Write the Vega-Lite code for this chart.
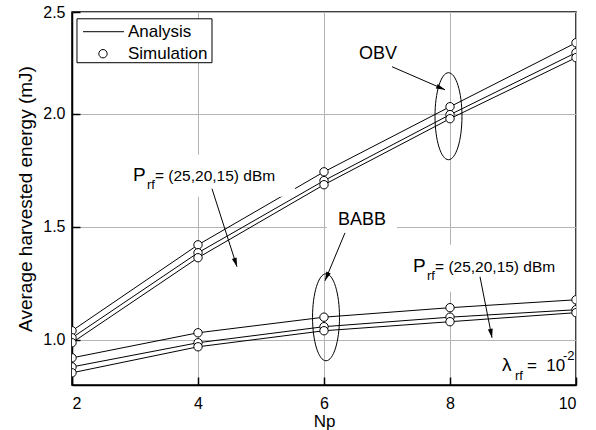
{
  "$schema": "https://vega.github.io/schema/vega-lite/v6.json",
  "width": 504,
  "height": 373,
  "autosize": {"type": "none"},
  "padding": {"left": 72, "top": 12, "right": 20, "bottom": 45},
  "background": "white",
  "config": {
    "font": "Liberation Sans",
    "view": {"stroke": "black", "strokeWidth": 1.5},
    "axis": {
      "domainColor": "black", "domainWidth": 1.5,
      "tickColor": "black", "tickWidth": 1.5, "tickSize": -8,
      "labelColor": "black", "labelFont": "Liberation Sans", "labelFontSize": 16,
      "titleFont": "Liberation Sans", "titleFontSize": 17, "titleFontWeight": "normal", "titleColor": "black",
      "gridColor": "#b4b4b4", "gridWidth": 1, "gridOpacity": 1
    },
    "text": {"font": "Liberation Sans", "color": "black"}
  },
  "datasets": {
    "curves": [
      {"Np": 2, "energy": 1.040, "series": "OBV, 25 dBm"},
      {"Np": 4, "energy": 1.420, "series": "OBV, 25 dBm"},
      {"Np": 6, "energy": 1.743, "series": "OBV, 25 dBm"},
      {"Np": 8, "energy": 2.031, "series": "OBV, 25 dBm"},
      {"Np": 10, "energy": 2.314, "series": "OBV, 25 dBm"},
      {"Np": 2, "energy": 1.009, "series": "OBV, 20 dBm"},
      {"Np": 4, "energy": 1.385, "series": "OBV, 20 dBm"},
      {"Np": 6, "energy": 1.704, "series": "OBV, 20 dBm"},
      {"Np": 8, "energy": 1.996, "series": "OBV, 20 dBm"},
      {"Np": 10, "energy": 2.270, "series": "OBV, 20 dBm"},
      {"Np": 2, "energy": 0.987, "series": "OBV, 15 dBm"},
      {"Np": 4, "energy": 1.363, "series": "OBV, 15 dBm"},
      {"Np": 6, "energy": 1.686, "series": "OBV, 15 dBm"},
      {"Np": 8, "energy": 1.978, "series": "OBV, 15 dBm"},
      {"Np": 10, "energy": 2.248, "series": "OBV, 15 dBm"},
      {"Np": 2, "energy": 0.920, "series": "BABB, 25 dBm"},
      {"Np": 4, "energy": 1.031, "series": "BABB, 25 dBm"},
      {"Np": 6, "energy": 1.100, "series": "BABB, 25 dBm"},
      {"Np": 8, "energy": 1.142, "series": "BABB, 25 dBm"},
      {"Np": 10, "energy": 1.177, "series": "BABB, 25 dBm"},
      {"Np": 2, "energy": 0.880, "series": "BABB, 20 dBm"},
      {"Np": 4, "energy": 0.987, "series": "BABB, 20 dBm"},
      {"Np": 6, "energy": 1.058, "series": "BABB, 20 dBm"},
      {"Np": 8, "energy": 1.100, "series": "BABB, 20 dBm"},
      {"Np": 10, "energy": 1.133, "series": "BABB, 20 dBm"},
      {"Np": 2, "energy": 0.854, "series": "BABB, 15 dBm"},
      {"Np": 4, "energy": 0.969, "series": "BABB, 15 dBm"},
      {"Np": 6, "energy": 1.040, "series": "BABB, 15 dBm"},
      {"Np": 8, "energy": 1.080, "series": "BABB, 15 dBm"},
      {"Np": 10, "energy": 1.120, "series": "BABB, 15 dBm"}
    ],
    "masks": [
      {"x": 2.857, "x2": 5.54, "y": 1.819, "y2": 1.633},
      {"x": 6.048, "x2": 7.159, "y": 1.619, "y2": 1.478},
      {"x": 7.333, "x2": 9.683, "y": 1.42, "y2": 1.212}
    ],
    "ellipses": [
      {"x": 7.976, "y": 1.989},
      {"x": 6.032, "y": 1.0996}
    ],
    "arrows": [
      {"x": 7.079, "y": 2.208, "x2": 7.921, "y2": 2.106},
      {"x": 4.222, "y": 1.668, "x2": 4.619, "y2": 1.323},
      {"x": 6.333, "y": 1.473, "x2": 6.016, "y2": 1.261},
      {"x": 8.476, "y": 1.279, "x2": 8.667, "y2": 1.009}
    ],
    "labels": [
      {"x": 6.857, "y": 2.243, "text": "OBV"},
      {"x": 6.603, "y": 1.509, "text": "BABB"}
    ],
    "prf": [
      {"x": 2.968, "y": 1.7035},
      {"x": 7.413, "y": 1.301}
    ],
    "lambda": [
      {"x": 8.825, "y": 0.863}
    ],
    "legendBox": [
      {"x": 2.079, "x2": 4.222, "y": 2.420, "y2": 2.2257}
    ],
    "legendLine": [
      {"x": 2.175, "x2": 2.825, "y": 2.3628}
    ],
    "legendCircle": [
      {"x": 2.492, "y": 2.2655}
    ],
    "legendText": [
      {"x": 2.889, "y": 2.3628, "text": "Analysis"},
      {"x": 2.889, "y": 2.2655, "text": "Simulation"}
    ]
  },
  "layer": [
    {
      "data": {"name": "curves"},
      "mark": {"type": "line", "color": "black", "strokeWidth": 1, "clip": true},
      "encoding": {
        "x": {"field": "Np", "type": "quantitative", "title": "Np",
              "scale": {"domain": [2, 10], "nice": false, "zero": false},
              "axis": {"values": [2, 4, 6, 8, 10], "format": "d", "labelPadding": 18, "titlePadding": 2}},
        "y": {"field": "energy", "type": "quantitative", "title": "Average harvested energy (mJ)",
              "scale": {"domain": [0.8, 2.45], "nice": false, "zero": false},
              "axis": {"values": [1, 1.5, 2, 2.45], "labelExpr": "datum.value > 2.4 ? '2.5' : format(datum.value, '.1f')", "labelPadding": 15, "titlePadding": 7, "titleFontSize": 19}},
        "detail": {"field": "series", "type": "nominal"}
      }
    },
    {
      "data": {"name": "masks"},
      "mark": {"type": "rect", "fill": "white", "stroke": null},
      "encoding": {
        "x": {"field": "x", "type": "quantitative", "title": "Np"},
        "x2": {"field": "x2"},
        "y": {"field": "y", "type": "quantitative", "title": "Average harvested energy (mJ)"},
        "y2": {"field": "y2"}
      }
    },
    {
      "data": {"name": "ellipses"},
      "mark": {"type": "point", "shape": "M0,-1A0.31,1,0,1,1,0,1A0.31,1,0,1,1,0,-1Z", "size": 7569, "filled": false, "stroke": "black", "strokeWidth": 1, "opacity": 1},
      "encoding": {
        "x": {"field": "x", "type": "quantitative", "title": "Np"},
        "y": {"field": "y", "type": "quantitative", "title": "Average harvested energy (mJ)"}
      }
    },
    {
      "data": {"name": "arrows"},
      "mark": {"type": "rule", "color": "black", "strokeWidth": 1},
      "encoding": {
        "x": {"field": "x", "type": "quantitative", "title": "Np"},
        "y": {"field": "y", "type": "quantitative", "title": "Average harvested energy (mJ)"},
        "x2": {"field": "x2"},
        "y2": {"field": "y2"}
      }
    },
    {
      "data": {"values": [{"x": 7.921, "y": 2.106}]},
      "mark": {"type": "point", "shape": "M0,0L0.55,2L-0.55,2Z", "size": 81, "filled": true, "color": "black", "opacity": 1, "angle": 113.5},
      "encoding": {
        "x": {"field": "x", "type": "quantitative", "title": "Np"},
        "y": {"field": "y", "type": "quantitative", "title": "Average harvested energy (mJ)"}
      }
    },
    {
      "data": {"values": [{"x": 4.619, "y": 1.323}]},
      "mark": {"type": "point", "shape": "M0,0L0.55,2L-0.55,2Z", "size": 81, "filled": true, "color": "black", "opacity": 1, "angle": 162.2},
      "encoding": {
        "x": {"field": "x", "type": "quantitative", "title": "Np"},
        "y": {"field": "y", "type": "quantitative", "title": "Average harvested energy (mJ)"}
      }
    },
    {
      "data": {"values": [{"x": 6.016, "y": 1.261}]},
      "mark": {"type": "point", "shape": "M0,0L0.55,2L-0.55,2Z", "size": 81, "filled": true, "color": "black", "opacity": 1, "angle": 202.6},
      "encoding": {
        "x": {"field": "x", "type": "quantitative", "title": "Np"},
        "y": {"field": "y", "type": "quantitative", "title": "Average harvested energy (mJ)"}
      }
    },
    {
      "data": {"values": [{"x": 8.667, "y": 1.009}]},
      "mark": {"type": "point", "shape": "M0,0L0.55,2L-0.55,2Z", "size": 81, "filled": true, "color": "black", "opacity": 1, "angle": 168.9},
      "encoding": {
        "x": {"field": "x", "type": "quantitative", "title": "Np"},
        "y": {"field": "y", "type": "quantitative", "title": "Average harvested energy (mJ)"}
      }
    },
    {
      "data": {"name": "labels"},
      "mark": {"type": "text", "fontSize": 18, "align": "center", "baseline": "alphabetic"},
      "encoding": {
        "x": {"field": "x", "type": "quantitative", "title": "Np"},
        "y": {"field": "y", "type": "quantitative", "title": "Average harvested energy (mJ)"},
        "text": {"field": "text"}
      }
    },
    {
      "data": {"name": "prf"},
      "mark": {"type": "text", "text": "P", "fontSize": 19, "align": "left", "baseline": "alphabetic"},
      "encoding": {
        "x": {"field": "x", "type": "quantitative", "title": "Np"},
        "y": {"field": "y", "type": "quantitative", "title": "Average harvested energy (mJ)"}
      }
    },
    {
      "data": {"name": "prf"},
      "mark": {"type": "text", "text": "rf", "fontSize": 13, "align": "left", "baseline": "alphabetic", "dx": 14, "dy": 8},
      "encoding": {
        "x": {"field": "x", "type": "quantitative", "title": "Np"},
        "y": {"field": "y", "type": "quantitative", "title": "Average harvested energy (mJ)"}
      }
    },
    {
      "data": {"name": "prf"},
      "mark": {"type": "text", "text": "= (25,20,15) dBm", "fontSize": 15.5, "align": "left", "baseline": "alphabetic", "dx": 22},
      "encoding": {
        "x": {"field": "x", "type": "quantitative", "title": "Np"},
        "y": {"field": "y", "type": "quantitative", "title": "Average harvested energy (mJ)"}
      }
    },
    {
      "data": {"name": "lambda"},
      "mark": {"type": "text", "text": "λ", "fontSize": 19, "align": "left", "baseline": "alphabetic"},
      "encoding": {
        "x": {"field": "x", "type": "quantitative", "title": "Np"},
        "y": {"field": "y", "type": "quantitative", "title": "Average harvested energy (mJ)"}
      }
    },
    {
      "data": {"name": "lambda"},
      "mark": {"type": "text", "text": "rf", "fontSize": 13, "align": "left", "baseline": "alphabetic", "dx": 13, "dy": 9},
      "encoding": {
        "x": {"field": "x", "type": "quantitative", "title": "Np"},
        "y": {"field": "y", "type": "quantitative", "title": "Average harvested energy (mJ)"}
      }
    },
    {
      "data": {"name": "lambda"},
      "mark": {"type": "text", "text": "=\u00a0 10", "fontSize": 17, "align": "left", "baseline": "alphabetic", "dx": 25},
      "encoding": {
        "x": {"field": "x", "type": "quantitative", "title": "Np"},
        "y": {"field": "y", "type": "quantitative", "title": "Average harvested energy (mJ)"}
      }
    },
    {
      "data": {"name": "lambda"},
      "mark": {"type": "text", "text": "-2", "fontSize": 13, "align": "left", "baseline": "alphabetic", "dx": 61, "dy": -11},
      "encoding": {
        "x": {"field": "x", "type": "quantitative", "title": "Np"},
        "y": {"field": "y", "type": "quantitative", "title": "Average harvested energy (mJ)"}
      }
    },
    {
      "data": {"name": "curves"},
      "mark": {"type": "point", "filled": true, "fill": "white", "stroke": "black", "strokeWidth": 1, "size": 70, "opacity": 1, "clip": true},
      "encoding": {
        "x": {"field": "Np", "type": "quantitative", "title": "Np"},
        "y": {"field": "energy", "type": "quantitative", "title": "Average harvested energy (mJ)"},
        "detail": {"field": "series", "type": "nominal"}
      }
    },
    {
      "data": {"name": "legendBox"},
      "mark": {"type": "rect", "fill": "white", "stroke": "black", "strokeWidth": 1},
      "encoding": {
        "x": {"field": "x", "type": "quantitative", "title": "Np"},
        "x2": {"field": "x2"},
        "y": {"field": "y", "type": "quantitative", "title": "Average harvested energy (mJ)"},
        "y2": {"field": "y2"}
      }
    },
    {
      "data": {"name": "legendLine"},
      "mark": {"type": "rule", "color": "black", "strokeWidth": 1},
      "encoding": {
        "x": {"field": "x", "type": "quantitative", "title": "Np"},
        "x2": {"field": "x2"},
        "y": {"field": "y", "type": "quantitative", "title": "Average harvested energy (mJ)"}
      }
    },
    {
      "data": {"name": "legendCircle"},
      "mark": {"type": "point", "filled": true, "fill": "white", "stroke": "black", "strokeWidth": 1, "size": 70, "opacity": 1},
      "encoding": {
        "x": {"field": "x", "type": "quantitative", "title": "Np"},
        "y": {"field": "y", "type": "quantitative", "title": "Average harvested energy (mJ)"}
      }
    },
    {
      "data": {"name": "legendText"},
      "mark": {"type": "text", "fontSize": 17, "align": "left", "baseline": "middle"},
      "encoding": {
        "x": {"field": "x", "type": "quantitative", "title": "Np"},
        "y": {"field": "y", "type": "quantitative", "title": "Average harvested energy (mJ)"},
        "text": {"field": "text"}
      }
    }
  ]
}
